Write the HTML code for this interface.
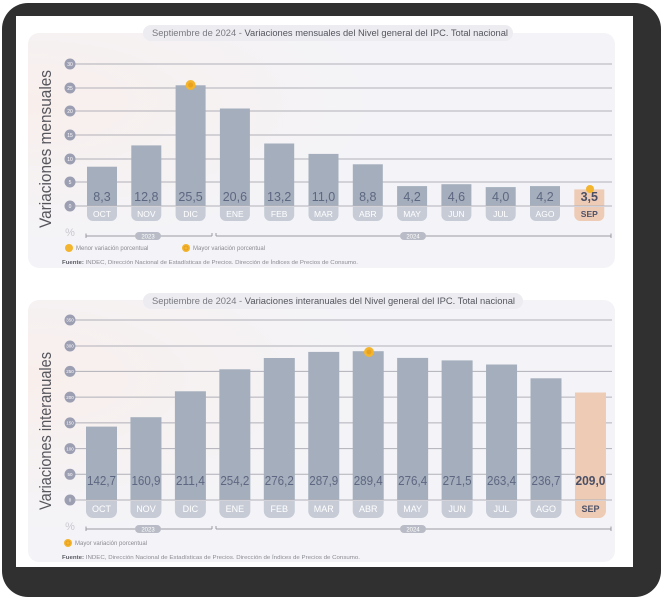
<!DOCTYPE html>
<html><head><meta charset="utf-8"><style>
html,body{margin:0;padding:0;background:#fff;}
svg{display:block;font-family:"Liberation Sans",sans-serif;}
</style></head><body>
<svg width="666" height="600" viewBox="0 0 666 600" xmlns="http://www.w3.org/2000/svg">
<defs>
<radialGradient id="pg" cx="0" cy="0.3" r="0.6">
<stop offset="0" stop-color="#f8efec"/><stop offset="1" stop-color="#f4f4f8"/>
</radialGradient>
</defs>
<rect x="2" y="3" width="659" height="594" rx="26" fill="#303030"/>
<rect x="16" y="16" width="617" height="551" fill="#ffffff"/>

<!-- TOP PANEL -->
<rect x="28" y="33" width="587" height="235" rx="11" fill="url(#pg)"/>
<rect x="143" y="25" width="370" height="16" rx="8" fill="#ececf1"/>
<text x="152" y="36" font-size="9" fill="#7a7a82" textLength="356" lengthAdjust="spacingAndGlyphs">Septiembre de 2024 - <tspan fill="#55555e">Variaciones mensuales del Nivel general del IPC. Total nacional</tspan></text>

<text transform="translate(51,149) rotate(-90)" text-anchor="middle" font-size="17" fill="#55555c" textLength="158" lengthAdjust="spacingAndGlyphs">Variaciones mensuales</text>

<g stroke="#b0b0b8" stroke-width="1">
<line x1="74" y1="64" x2="612" y2="64"/><line x1="74" y1="88" x2="612" y2="88"/><line x1="74" y1="111" x2="612" y2="111"/><line x1="74" y1="135" x2="612" y2="135"/><line x1="74" y1="159" x2="612" y2="159"/><line x1="74" y1="182" x2="612" y2="182"/><line x1="74" y1="206" x2="612" y2="206"/>
</g>
<g fill="#9c9eb2">
<circle cx="70" cy="64" r="5.5"/><circle cx="70" cy="88" r="5.5"/><circle cx="70" cy="111" r="5.5"/><circle cx="70" cy="135" r="5.5"/><circle cx="70" cy="159" r="5.5"/><circle cx="70" cy="182" r="5.5"/><circle cx="70" cy="206" r="5.5"/>
</g>
<g fill="#fff" font-size="5" text-anchor="middle">
<text x="70" y="66">30</text><text x="70" y="90">25</text><text x="70" y="113">20</text><text x="70" y="137">15</text><text x="70" y="161">10</text><text x="70" y="184">5</text><text x="70" y="208">0</text>
</g>

<g fill="#a4aebc">
<rect x="87" y="166.7" width="30" height="39.3"/>
<rect x="131.3" y="145.4" width="30" height="60.6"/>
<rect x="175.6" y="85.3" width="30" height="120.7"/>
<rect x="219.9" y="108.5" width="30" height="97.5"/>
<rect x="264.2" y="143.5" width="30" height="62.5"/>
<rect x="308.5" y="153.9" width="30" height="52.1"/>
<rect x="352.8" y="164.3" width="30" height="41.7"/>
<rect x="397.1" y="186.1" width="30" height="19.9"/>
<rect x="441.4" y="184.2" width="30" height="21.8"/>
<rect x="485.7" y="187.1" width="30" height="18.9"/>
<rect x="530" y="186.1" width="30" height="19.9"/>
</g>
<rect x="574.3" y="189.4" width="30" height="16.6" fill="#eecbb4"/>
<g stroke="#b0b0b8"><line x1="74" y1="206" x2="612" y2="206"/></g>

<g font-size="12.5" fill="#5e6781" text-anchor="middle">
<text x="102" y="201">8,3</text><text x="146.3" y="201">12,8</text><text x="190.6" y="201">25,5</text><text x="234.9" y="201">20,6</text><text x="279.2" y="201">13,2</text><text x="323.5" y="201">11,0</text><text x="367.8" y="201">8,8</text><text x="412.1" y="201">4,2</text><text x="456.4" y="201">4,6</text><text x="500.7" y="201">4,0</text><text x="545" y="201">4,2</text>
<text x="589.3" y="201" font-weight="bold" fill="#4a4f66">3,5</text>
</g>

<g fill="#c6cbd6">
<path d="M87 207h30v8a6 6 0 0 1-6 6h-18a6 6 0 0 1-6-6z"/>
<path d="M131.3 207h30v8a6 6 0 0 1-6 6h-18a6 6 0 0 1-6-6z"/>
<path d="M175.6 207h30v8a6 6 0 0 1-6 6h-18a6 6 0 0 1-6-6z"/>
<path d="M219.9 207h30v8a6 6 0 0 1-6 6h-18a6 6 0 0 1-6-6z"/>
<path d="M264.2 207h30v8a6 6 0 0 1-6 6h-18a6 6 0 0 1-6-6z"/>
<path d="M308.5 207h30v8a6 6 0 0 1-6 6h-18a6 6 0 0 1-6-6z"/>
<path d="M352.8 207h30v8a6 6 0 0 1-6 6h-18a6 6 0 0 1-6-6z"/>
<path d="M397.1 207h30v8a6 6 0 0 1-6 6h-18a6 6 0 0 1-6-6z"/>
<path d="M441.4 207h30v8a6 6 0 0 1-6 6h-18a6 6 0 0 1-6-6z"/>
<path d="M485.7 207h30v8a6 6 0 0 1-6 6h-18a6 6 0 0 1-6-6z"/>
<path d="M530 207h30v8a6 6 0 0 1-6 6h-18a6 6 0 0 1-6-6z"/>
</g>
<path d="M574.3 207h30v8a6 6 0 0 1-6 6h-18a6 6 0 0 1-6-6z" fill="#eecbb4"/>
<g font-size="8.5" fill="#fff" text-anchor="middle">
<text x="102" y="217">OCT</text><text x="146.3" y="217">NOV</text><text x="190.6" y="217">DIC</text><text x="234.9" y="217">ENE</text><text x="279.2" y="217">FEB</text><text x="323.5" y="217">MAR</text><text x="367.8" y="217">ABR</text><text x="412.1" y="217">MAY</text><text x="456.4" y="217">JUN</text><text x="500.7" y="217">JUL</text><text x="545" y="217">AGO</text>
<text x="589.3" y="217" font-weight="bold" fill="#4e536a">SEP</text>
</g>

<circle cx="190.6" cy="85" r="5" fill="#f3b52f"/><circle cx="190.6" cy="85" r="2.5" fill="#e9a21f"/>
<circle cx="590" cy="189" r="4" fill="#f3b52f"/>

<text x="70" y="236" font-size="11" fill="#c8c8d0" text-anchor="middle">%</text>
<g stroke="#9a9aa2" stroke-width="1">
<line x1="86" y1="236" x2="212" y2="236"/><line x1="86" y1="233.5" x2="86" y2="238"/><line x1="212" y1="233" x2="212" y2="236"/>
<line x1="216" y1="236" x2="611" y2="236"/><line x1="216" y1="233" x2="216" y2="236"/><line x1="611" y1="233.5" x2="611" y2="238"/>
</g>
<rect x="135" y="232" width="26" height="8" rx="4" fill="#b9bcc6"/><text x="148" y="238.5" font-size="6" fill="#fff" text-anchor="middle">2023</text>
<rect x="400" y="232" width="26" height="8" rx="4" fill="#b9bcc6"/><text x="413" y="238.5" font-size="6" fill="#fff" text-anchor="middle">2024</text>

<circle cx="69" cy="248" r="4" fill="#f3b52f"/>
<text x="76" y="250" font-size="6" fill="#8a8a92">Menor variación porcentual</text>
<circle cx="186" cy="248" r="4" fill="#f3b52f"/><circle cx="186" cy="248" r="2" fill="none" stroke="#e49a1a" stroke-width="0.8"/>
<text x="193" y="250" font-size="6" fill="#8a8a92">Mayor variación porcentual</text>
<text x="62" y="264" font-size="5.5" fill="#8a8a92" textLength="296" lengthAdjust="spacingAndGlyphs"><tspan font-weight="bold" fill="#5a5a64">Fuente:</tspan> INDEC, Dirección Nacional de Estadísticas de Precios. Dirección de Índices de Precios de Consumo.</text>

<!-- BOTTOM PANEL -->
<rect x="28" y="300" width="587" height="262" rx="11" fill="url(#pg)"/>
<rect x="143" y="293" width="380" height="16" rx="8" fill="#ececf1"/>
<text x="152" y="304" font-size="9" fill="#7a7a82" textLength="363" lengthAdjust="spacingAndGlyphs">Septiembre de 2024 - <tspan fill="#55555e">Variaciones interanuales del Nivel general del IPC. Total nacional</tspan></text>

<text transform="translate(51,431) rotate(-90)" text-anchor="middle" font-size="17" fill="#55555c" textLength="158" lengthAdjust="spacingAndGlyphs">Variaciones interanuales</text>

<g stroke="#b0b0b8" stroke-width="1">
<line x1="74" y1="320" x2="612" y2="320"/><line x1="74" y1="346" x2="612" y2="346"/><line x1="74" y1="371.4" x2="612" y2="371.4"/><line x1="74" y1="397.1" x2="612" y2="397.1"/><line x1="74" y1="422.9" x2="612" y2="422.9"/><line x1="74" y1="448.6" x2="612" y2="448.6"/><line x1="74" y1="474.3" x2="612" y2="474.3"/><line x1="74" y1="500" x2="612" y2="500"/>
</g>
<g fill="#9c9eb2">
<circle cx="70" cy="320" r="5.5"/><circle cx="70" cy="346" r="5.5"/><circle cx="70" cy="371.4" r="5.5"/><circle cx="70" cy="397.1" r="5.5"/><circle cx="70" cy="422.9" r="5.5"/><circle cx="70" cy="448.6" r="5.5"/><circle cx="70" cy="474.3" r="5.5"/><circle cx="70" cy="500" r="5.5"/>
</g>
<g fill="#fff" font-size="4.5" text-anchor="middle">
<text x="70" y="321.7">350</text><text x="70" y="347.7">300</text><text x="70" y="373.1">250</text><text x="70" y="398.8">200</text><text x="70" y="424.6">150</text><text x="70" y="450.3">100</text><text x="70" y="476">50</text><text x="70" y="501.7">0</text>
</g>

<g fill="#a4aebc">
<rect x="86" y="426.6" width="31" height="73.4"/>
<rect x="130.45" y="417.2" width="31" height="82.8"/>
<rect x="174.9" y="391.3" width="31" height="108.7"/>
<rect x="219.35" y="369.3" width="31" height="130.7"/>
<rect x="263.8" y="358" width="31" height="142"/>
<rect x="308.25" y="351.9" width="31" height="148.1"/>
<rect x="352.7" y="351.2" width="31" height="148.8"/>
<rect x="397.15" y="357.9" width="31" height="142.1"/>
<rect x="441.6" y="360.4" width="31" height="139.6"/>
<rect x="486.05" y="364.5" width="31" height="135.5"/>
<rect x="530.5" y="378.3" width="31" height="121.7"/>
</g>
<rect x="574.95" y="392.5" width="31" height="107.5" fill="#eecbb4"/>
<g stroke="#b0b0b8"><line x1="74" y1="500" x2="612" y2="500"/></g>

<g font-size="12.5" fill="#5e6781" text-anchor="middle">
<text x="101.5" y="485" textLength="29" lengthAdjust="spacingAndGlyphs">142,7</text>
<text x="145.95" y="485" textLength="29" lengthAdjust="spacingAndGlyphs">160,9</text>
<text x="190.4" y="485" textLength="29" lengthAdjust="spacingAndGlyphs">211,4</text>
<text x="234.85" y="485" textLength="29" lengthAdjust="spacingAndGlyphs">254,2</text>
<text x="279.3" y="485" textLength="29" lengthAdjust="spacingAndGlyphs">276,2</text>
<text x="323.75" y="485" textLength="29" lengthAdjust="spacingAndGlyphs">287,9</text>
<text x="368.2" y="485" textLength="29" lengthAdjust="spacingAndGlyphs">289,4</text>
<text x="412.65" y="485" textLength="29" lengthAdjust="spacingAndGlyphs">276,4</text>
<text x="457.1" y="485" textLength="29" lengthAdjust="spacingAndGlyphs">271,5</text>
<text x="501.55" y="485" textLength="29" lengthAdjust="spacingAndGlyphs">263,4</text>
<text x="546" y="485" textLength="29" lengthAdjust="spacingAndGlyphs">236,7</text>
<text x="590.45" y="485" textLength="30" lengthAdjust="spacingAndGlyphs" font-weight="bold" fill="#4a4f66">209,0</text>
</g>

<g fill="#c6cbd6">
<path d="M86 501h31v10a7 7 0 0 1-7 7h-17a7 7 0 0 1-7-7z"/>
<path d="M130.45 501h31v10a7 7 0 0 1-7 7h-17a7 7 0 0 1-7-7z"/>
<path d="M174.9 501h31v10a7 7 0 0 1-7 7h-17a7 7 0 0 1-7-7z"/>
<path d="M219.35 501h31v10a7 7 0 0 1-7 7h-17a7 7 0 0 1-7-7z"/>
<path d="M263.8 501h31v10a7 7 0 0 1-7 7h-17a7 7 0 0 1-7-7z"/>
<path d="M308.25 501h31v10a7 7 0 0 1-7 7h-17a7 7 0 0 1-7-7z"/>
<path d="M352.7 501h31v10a7 7 0 0 1-7 7h-17a7 7 0 0 1-7-7z"/>
<path d="M397.15 501h31v10a7 7 0 0 1-7 7h-17a7 7 0 0 1-7-7z"/>
<path d="M441.6 501h31v10a7 7 0 0 1-7 7h-17a7 7 0 0 1-7-7z"/>
<path d="M486.05 501h31v10a7 7 0 0 1-7 7h-17a7 7 0 0 1-7-7z"/>
<path d="M530.5 501h31v10a7 7 0 0 1-7 7h-17a7 7 0 0 1-7-7z"/>
</g>
<path d="M574.95 501h31v10a7 7 0 0 1-7 7h-17a7 7 0 0 1-7-7z" fill="#eecbb4"/>
<g font-size="9" fill="#fff" text-anchor="middle">
<text x="101.5" y="512">OCT</text><text x="145.95" y="512">NOV</text><text x="190.4" y="512">DIC</text><text x="234.85" y="512">ENE</text><text x="279.3" y="512">FEB</text><text x="323.75" y="512">MAR</text><text x="368.2" y="512">ABR</text><text x="412.65" y="512">MAY</text><text x="457.1" y="512">JUN</text><text x="501.55" y="512">JUL</text><text x="546" y="512">AGO</text>
<text x="590.45" y="512" font-weight="bold" fill="#4e536a">SEP</text>
</g>

<circle cx="369" cy="352" r="5" fill="#f3b52f"/><circle cx="369" cy="352" r="2.5" fill="#e9a21f"/>

<text x="70" y="530" font-size="11" fill="#c8c8d0" text-anchor="middle">%</text>
<g stroke="#9a9aa2" stroke-width="1">
<line x1="86" y1="529" x2="212" y2="529"/><line x1="86" y1="526.5" x2="86" y2="531"/><line x1="212" y1="526" x2="212" y2="529"/>
<line x1="216" y1="529" x2="611" y2="529"/><line x1="216" y1="526" x2="216" y2="529"/><line x1="611" y1="526.5" x2="611" y2="531"/>
</g>
<rect x="135" y="525" width="26" height="8" rx="4" fill="#b9bcc6"/><text x="148" y="531.5" font-size="6" fill="#fff" text-anchor="middle">2023</text>
<rect x="400" y="525" width="26" height="8" rx="4" fill="#b9bcc6"/><text x="413" y="531.5" font-size="6" fill="#fff" text-anchor="middle">2024</text>

<circle cx="68" cy="543" r="4" fill="#f3b52f"/><circle cx="68" cy="543" r="2" fill="none" stroke="#e49a1a" stroke-width="0.8"/>
<text x="75" y="545" font-size="6" fill="#8a8a92">Mayor variación porcentual</text>
<text x="62" y="559" font-size="5.5" fill="#8a8a92" textLength="298" lengthAdjust="spacingAndGlyphs"><tspan font-weight="bold" fill="#5a5a64">Fuente:</tspan> INDEC, Dirección Nacional de Estadísticas de Precios. Dirección de Índices de Precios de Consumo.</text>
</svg>
</body></html>
